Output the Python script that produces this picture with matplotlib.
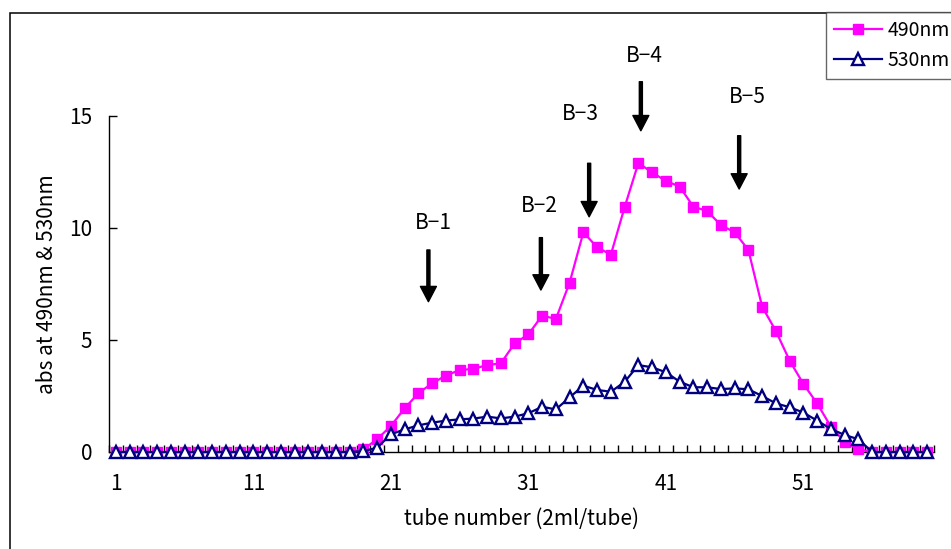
import matplotlib
matplotlib.use("Agg")
import matplotlib.pyplot as plt
from matplotlib.patches import FancyArrowPatch, Rectangle

plt.rcParams['font.family'] = ['Noto Sans CJK JP', 'DejaVu Sans']

# Fraction absorbance profile, tubes 1..60
tubes = list(range(1, 61))
abs_490 = [0.0] * 18 + [0.12, 0.57, 1.16, 1.95, 2.62, 3.07, 3.41, 3.66, 3.71, 3.88,
                        3.96, 4.85, 5.25, 6.09, 5.94, 7.56, 9.81, 9.14, 8.81, 10.93,
                        12.9, 12.48, 12.1, 11.85, 10.95, 10.76, 10.13, 9.81, 9.02, 6.49,
                        5.4, 4.08, 3.04, 2.17, 1.13, 0.46, 0.12, 0.0, 0.0, 0.0,
                        0.0, 0.0]
abs_530 = [0.0] * 18 + [0.04, 0.19, 0.79, 1.01, 1.19, 1.31, 1.40, 1.46, 1.49, 1.58,
                        1.50, 1.58, 1.73, 2.02, 1.90, 2.44, 2.96, 2.77, 2.69, 3.13,
                        3.88, 3.78, 3.56, 3.14, 2.89, 2.89, 2.81, 2.84, 2.80, 2.50,
                        2.17, 2.00, 1.76, 1.40, 1.03, 0.76, 0.57, 0.0, 0.0, 0.0,
                        0.0, 0.0]

x_tick_labels = ['1', '11', '21', '31', '41', '51']
y_ticks = [0, 5, 10, 15]

# Pooled fractions: label, arrow x (tube), arrow top, arrow tip, label x, label y
peak_names = ['B\u22121', 'B\u22122', 'B\u22123', 'B\u22124', 'B\u22125']
peak_x = [23.73, 31.91, 35.42, 39.18, 46.33]
peak_top = [9.02, 9.57, 12.89, 16.53, 14.12]
peak_tip = [6.71, 7.23, 10.50, 14.34, 11.74]
peak_label_x = [24.08, 31.79, 34.77, 39.44, 46.89]
peak_label_y = [10.22, 10.98, 15.09, 17.68, 15.86]

W, H = 951, 549
fig = plt.figure(figsize=(W / 100, H / 100), dpi=100)

# chart-area frame
fig.patches.append(Rectangle((10 / W, -0.2), 1.2, 1.2 - 12.5 / H,
                             transform=fig.transFigure, fill=False,
                             edgecolor='black', linewidth=1.1))

ax = fig.add_axes([109 / W, (H - 452) / H, 825 / W, 336 / H])
ax.set_xlim(0.5, 60.5)
ax.set_ylim(0, 15)

ax.plot(tubes, abs_490, color='#FF00FF', linewidth=1.6, marker='s',
        markersize=7.5, markerfacecolor='#FF00FF', markeredgecolor='#FF00FF',
        clip_on=False, zorder=3, label='490nm')
ax.plot(tubes, abs_530, color='#000080', linewidth=1.6, marker='^',
        markersize=8, markerfacecolor='white', markeredgecolor='#000080',
        markeredgewidth=1.7, clip_on=False, zorder=4, label='530nm')

for s in ['top', 'right']:
    ax.spines[s].set_visible(False)
for s in ['left', 'bottom']:
    ax.spines[s].set_linewidth(1.0)
    ax.spines[s].set_color('black')

ax.set_xticks([int(t) for t in x_tick_labels])
ax.set_xticklabels(x_tick_labels)
ax.set_xticks([t + 0.5 for t in range(0, 61)], minor=True)
ax.tick_params(axis='x', which='major', length=0, pad=15, labelsize=15)
ax.tick_params(axis='x', which='minor', direction='in', length=5, width=1)
ax.set_yticks(y_ticks)
ax.tick_params(axis='y', which='major', direction='in', length=6, width=1,
               pad=12, labelsize=15)

ax.set_xlabel('tube number (2ml/tube)', fontsize=15, labelpad=9)
ax.set_ylabel('abs at 490nm & 530nm', fontsize=15, labelpad=8)

for name, xa, yt, yp, lx, ly in zip(peak_names, peak_x, peak_top, peak_tip,
                                    peak_label_x, peak_label_y):
    arr = FancyArrowPatch((xa, yt), (xa, yp),
                          arrowstyle='simple,head_length=1.1,head_width=1.15,tail_width=0.22',
                          mutation_scale=10, color='black', shrinkA=0, shrinkB=0,
                          clip_on=False, zorder=5)
    ax.add_patch(arr)
    ax.text(lx, ly, name, fontsize=15, ha='center', va='center', clip_on=False)

leg = fig.legend(loc='upper left', bbox_to_anchor=(826 / W, 1 - 12.5 / H),
                 fontsize=14, frameon=True, fancybox=False, borderpad=0.4,
                 handlelength=2.5, handletextpad=0.25, labelspacing=0.45,
                 borderaxespad=0)
leg.get_frame().set_edgecolor('#404040')
leg.get_frame().set_linewidth(1.0)

fig.savefig('out.png', dpi=100)
